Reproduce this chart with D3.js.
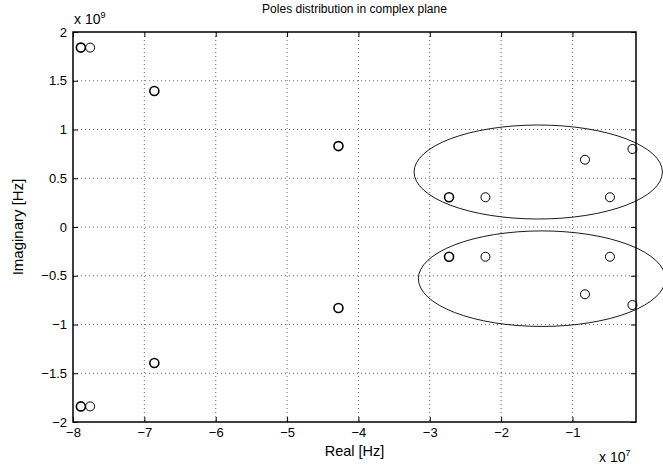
<!DOCTYPE html>
<html><head><meta charset="utf-8">
<script src="https://cdn.jsdelivr.net/npm/d3@7"></script>
<style>body{margin:0;background:#fff}svg{display:block}text{font-family:"Liberation Sans",Arial,sans-serif;fill:#000}</style>
</head><body><svg id="c" width="663" height="466"></svg>
<script>
// Data (real in 1e7 Hz, imag in 1e9 Hz)
const realParts = [-7.89,-7.76,-6.86,-4.28,-2.73,-2.22,-0.825,-0.16,-0.475,
                   -7.89,-7.76,-6.86,-4.28,-2.73,-2.22,-0.825,-0.16,-0.475];
const imagParts = [1.84,1.84,1.395,0.83,0.305,0.305,0.69,0.80,0.305,
                   -1.84,-1.84,-1.395,-0.83,-0.305,-0.305,-0.69,-0.80,-0.305];
const doublePole = [1,0,1,1,1,0,0,0,0, 1,0,1,1,1,0,0,0,0];
const ellipseCx = [-1.48,-1.43];
const ellipseCy = [0.564,-0.53];
const ellipseRx = [1.74,1.73];
const ellipseRy = [0.482,0.49];
const xTicks = [-8,-7,-6,-5,-4,-3,-2,-1];
const yTicks = [-2,-1.5,-1,-0.5,0,0.5,1,1.5,2];

const L=73,R=636,T=32,B=422;
const x=d3.scaleLinear().domain([-8,-0.11]).range([L,R]);
const y=d3.scaleLinear().domain([-2,2]).range([B,T]);
const svg=d3.select("#c");
const fmt=d=>(d<0?"\u2212":"")+Math.abs(d);

// grid
const g=svg.append("g");
g.selectAll(".gx").data(xTicks.filter(d=>d>-8)).join("line")
 .attr("x1",d=>x(d)).attr("x2",d=>x(d)).attr("y1",T).attr("y2",B)
 .attr("stroke","#444").attr("stroke-width",0.8).attr("stroke-dasharray","1,3");
g.selectAll(".gy").data(yTicks.filter(d=>d>-2&&d<2)).join("line")
 .attr("y1",d=>y(d)).attr("y2",d=>y(d)).attr("x1",L).attr("x2",R)
 .attr("stroke","#444").attr("stroke-width",0.8).attr("stroke-dasharray","1,3");

// axes with inward ticks
const axB=d3.axisBottom(x).tickValues(xTicks).tickSize(-5).tickPadding(6).tickFormat(fmt);
const axT=d3.axisTop(x).tickValues(xTicks).tickSize(-5).tickFormat("");
const axLft=d3.axisLeft(y).tickValues(yTicks).tickSize(-5).tickPadding(6).tickFormat(fmt);
const axRt=d3.axisRight(y).tickValues(yTicks).tickSize(-5).tickFormat("");
function style(sel){sel.select(".domain").remove();sel.selectAll("line").attr("stroke","#000");
 sel.selectAll("text").style("font-size","13px").style("font-family","'Liberation Sans',Arial,sans-serif");}
svg.append("g").attr("transform",`translate(0,${B})`).call(axB).call(style);
svg.append("g").attr("transform",`translate(0,${T})`).call(axT).call(style);
svg.append("g").attr("transform",`translate(${L},0)`).call(axLft).call(style);
svg.append("g").attr("transform",`translate(${R},0)`).call(axRt).call(style);
svg.append("rect").attr("x",L).attr("y",T).attr("width",R-L).attr("height",B-T)
 .attr("fill","none").attr("stroke","#000").attr("stroke-width",1.5);

// points
svg.selectAll(".p").data(realParts.map((r,i)=>({r,i:imagParts[i],d:doublePole[i]}))).join("circle")
 .attr("cx",d=>x(d.r)).attr("cy",d=>y(d.i)).attr("r",4.5)
 .attr("fill","none").attr("stroke","#000").attr("stroke-width",d=>d.d?1.6:1);

// ellipses
svg.selectAll(".e").data(ellipseCx.map((c,i)=>i)).join("ellipse")
 .attr("cx",i=>x(ellipseCx[i])).attr("cy",i=>y(ellipseCy[i]))
 .attr("rx",i=>x(ellipseRx[i])-x(0)).attr("ry",i=>y(0)-y(ellipseRy[i]))
 .attr("fill","none").attr("stroke","#000").attr("stroke-width",0.9);

// labels
svg.append("text").attr("x",(L+R)/2).attr("y",13).attr("text-anchor","middle").style("font-size","12px")
 .text("Poles distribution in complex plane");
svg.append("text").attr("x",(L+R)/2).attr("y",456).attr("text-anchor","middle").style("font-size","14.5px")
 .text("Real [Hz]");
svg.append("text").attr("transform",`translate(23,${(T+B)/2}) rotate(-90)`).attr("text-anchor","middle")
 .style("font-size","15px").text("Imaginary [Hz]");
const e1=svg.append("text").attr("x",74).attr("y",24).style("font-size","14px");
e1.append("tspan").text("x 10");e1.append("tspan").attr("dy",-6).style("font-size","9px").text("9");
const e2=svg.append("text").attr("x",599).attr("y",462).style("font-size","14px");
e2.append("tspan").text("x 10");e2.append("tspan").attr("dy",-6).style("font-size","9px").text("7");
</script></body></html>
